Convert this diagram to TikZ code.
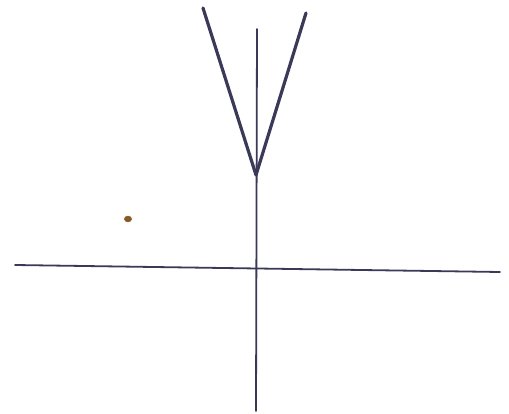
\documentclass[tikz,border=0pt]{standalone}
\begin{document}
\begin{tikzpicture}[x=1pt,y=-1pt,
  axisline/.style={draw=ink,line width=1.8pt,line cap=round},
  armline/.style={draw=ink,line width=3.2pt,line cap=round,line join=round}]
\definecolor{ink}{HTML}{3A3A58}
\definecolor{dotbrown}{HTML}{8A5A2A}
\useasboundingbox (0,0) rectangle (509,414);
\coordinate (vtop) at (257,29);
\coordinate (vbot) at (256,411);
\coordinate (hleft) at (15,265);
\coordinate (hright) at (500,272);
\coordinate (lt) at (203,8);
\coordinate (rt) at (306,13);
\coordinate (tip) at (256,175);
\draw[axisline] (vtop) -- (vbot);
\draw[axisline] (hleft) -- (hright);
\draw[armline] (lt) -- (tip) -- (rt);
\fill[dotbrown] (128,219) ellipse (4 and 3.2);
\end{tikzpicture}
\end{document}
